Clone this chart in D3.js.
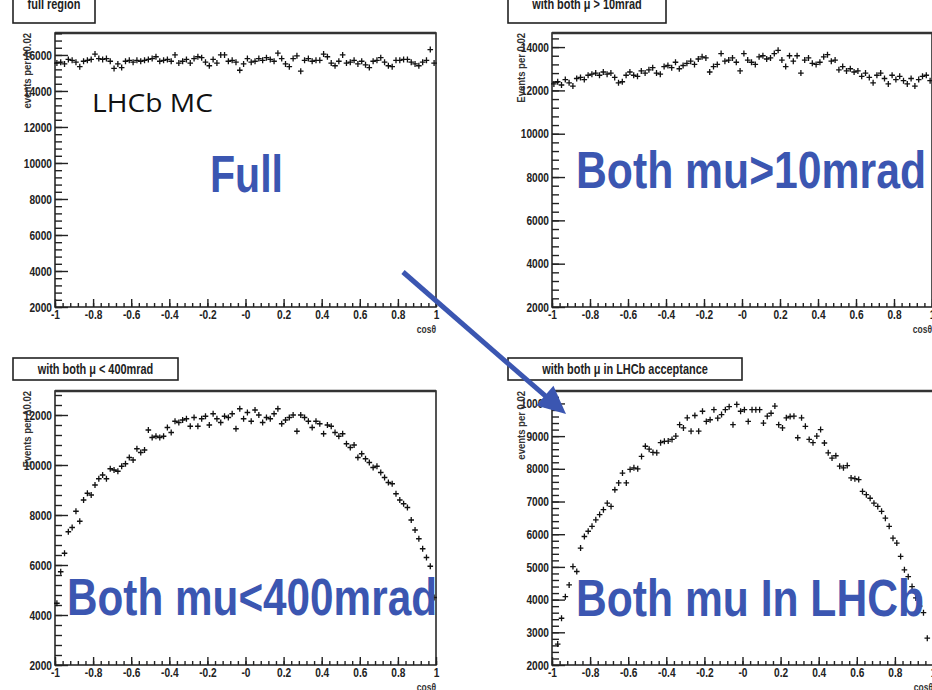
<!DOCTYPE html>
<html>
<head>
<meta charset="utf-8">
<script src="https://cdn.jsdelivr.net/npm/d3@7"></script>
<style>
  html, body { margin: 0; background: #fff; }
  svg { display: block; font-family: "Liberation Sans", Arial, sans-serif; }
</style>
</head>
<body>
<svg id="canvas" width="932" height="690"></svg>
<script>
// ---- data: events per 0.02 bin of cos(theta), 100 bins from -1 to 1 ----
const fullRegion = [
  15550,15600,15500,15750,15700,15600,15350,15650,15700,15750,
  16050,15800,15750,15800,15650,15250,15500,15300,15650,15700,
  15600,15700,15650,15700,15750,15800,15900,15650,15700,15750,
  15650,16000,15550,15650,15750,15550,15800,15900,15850,15600,
  15400,15750,15550,16000,16000,15650,15700,15600,15150,15500,
  15800,15600,15650,15800,15700,15850,15750,15650,16100,15800,
  15500,15350,15800,15950,15100,15700,15800,15650,15700,15700,
  16050,15900,15550,15400,15650,16000,15550,15600,15700,15500,
  15650,15450,15300,15650,15700,15850,15600,15400,15350,15700,
  15700,15750,15750,15600,15500,15400,15600,15700,16300,15550];

const above10mrad = [
  12300,12400,12250,12500,12350,12200,12550,12600,12500,12700,
  12750,12800,12700,12850,12750,12800,12600,12350,12400,12700,
  12850,12700,12650,12900,12800,12950,13050,12800,12750,13100,
  13150,13050,13300,13000,13150,13250,13350,13200,13450,13550,
  13500,12850,13100,13200,13700,13350,13400,13500,13300,12900,
  13700,13400,13300,13200,13550,13600,13450,13500,13700,13850,
  13400,13100,13600,13350,13600,12800,13400,13500,13250,13200,
  13300,13550,13650,13350,13400,12950,13100,12900,13000,12850,
  12900,12650,12800,12600,12350,12700,12800,12550,12300,12700,
  12500,12650,12450,12300,12550,12200,12500,12650,12700,12450];

const below400mrad = [
  4470,5730,6470,7330,7500,8150,7750,8600,8870,8800,
  9200,9450,9600,9450,9850,9800,9750,9950,10050,10300,
  10200,10650,10500,10600,11400,11100,11150,11100,11150,11500,
  11300,11750,11700,11800,11850,11550,11900,11550,11850,11950,
  11600,12050,11850,11700,11950,11900,12050,11450,12250,11850,
  12100,11750,12200,12000,11700,11900,11850,12050,12250,11650,
  11800,11900,12000,11350,12000,11900,11750,11500,11750,11650,
  11250,11600,11550,11300,11150,11250,10850,10700,10800,10300,
  10450,10250,10100,9900,9950,9700,9500,9300,9250,8850,
  8600,8450,8300,7800,7400,7050,6650,6300,5950,4700];

const inAcceptance = [
  null,2640,3430,4090,4450,5010,4860,5575,5930,6090,
  6240,6440,6600,6750,6950,6850,7360,7570,7870,7570,
  7980,8030,8000,8380,8690,8600,8500,8490,8800,8840,
  8850,8900,9000,9350,9250,9560,9150,9630,9150,9760,
  9450,9500,9810,9550,9660,9810,9900,9350,9970,9760,
  9810,9450,9810,9810,9810,9400,9610,9700,9920,9350,
  9250,9560,9600,9610,8950,9560,9300,8900,8800,9000,
  9200,8790,8490,8330,8400,8080,8030,8100,7720,7700,
  7670,7310,7210,7100,6950,6850,6700,6490,6240,5880,
  5730,5320,4910,4700,4400,4050,3800,3600,2820,null];

const xTickValues = [-1,-0.8,-0.6,-0.4,-0.2,0,0.2,0.4,0.6,0.8,1];
const xTickLabels = ["-1","-0.8","-0.6","-0.4","-0.2","-0","0.2","0.4","0.6","0.8","1"];
const yTicksFull  = [2000,4000,6000,8000,10000,12000,14000,16000];
const yTicks10    = [2000,4000,6000,8000,10000,12000,14000];
const yTicks400   = [2000,4000,6000,8000,10000,12000];
const yTicksAcc   = [2000,3000,4000,5000,6000,7000,8000,9000,10000];

const panelTitles = ["full region", "with both μ > 10mrad", "with both μ < 400mrad", "with both μ in LHCb acceptance"];
const yTitles     = ["events per Δ0.02", "Events per 0.02", "Events per Δ0.02", "events per 0.02"];
const bigLabels   = ["Full", "Both mu>10mrad", "Both mu<400mrad", "Both mu In LHCb"];

// bin centres -0.99 ... 0.99
const binCentres = d3.range(100).map(i => -0.99 + i * 0.02);

const BLUE = "#3b56b1";
const svg = d3.select("#canvas");

const panels = [
  { data: fullRegion,   ticks: yTicksFull, top: 17220, minor: 400, x0: 55,  x1: 436, y0: 33,  y1: 307,
    box: [13, -8, 82, 31],  tb: 9,   big: [210, 192, 73],  yt: 31 },
  { data: above10mrad,  ticks: yTicks10,   top: 14650, minor: 400, x0: 552, x1: 932, y0: 33,  y1: 307,
    box: [508, -8, 158, 31], tb: 9,  big: [576, 188, 350], yt: 525 },
  { data: below400mrad, ticks: yTicks400,  top: 12960, minor: 400, x0: 55,  x1: 436, y0: 391, y1: 665,
    box: [13, 358, 165, 22], tb: 374, big: [67, 615, 370],  yt: 31 },
  { data: inAcceptance, ticks: yTicksAcc,  top: 10380, minor: 200, x0: 552, x1: 933, y0: 391, y1: 665,
    box: [508, 358, 234, 22], tb: 374, big: [576, 616, 348], yt: 525 }
];

const narrow = []; // ROOT labels look condensed in the scan

panels.forEach((p, k) => {
  const x = d3.scaleLinear().domain([-1, 1]).range([p.x0, p.x1]);
  const y = d3.scaleLinear().domain([2000, p.top]).range([p.y1, p.y0]);
  const g = svg.append("g");

  // frame
  g.append("rect").attr("x", p.x0).attr("y", p.y0)
    .attr("width", p.x1 - p.x0).attr("height", p.y1 - p.y0)
    .attr("fill", "none").attr("stroke", "#2a2a2a").attr("stroke-width", 1.6);
  g.append("line").attr("x1", p.x0).attr("x2", p.x1).attr("y1", p.y0).attr("y2", p.y0)
    .attr("stroke", "#333").attr("stroke-width", 2.6);

  // y axis: inward ticks
  const yMinor = g.append("g").attr("transform", `translate(${p.x0},0)`)
    .call(d3.axisLeft(y).tickValues(d3.range(2000, p.top, p.minor)).tickSize(-7).tickSizeOuter(0).tickFormat(""));
  const yMajor = g.append("g").attr("transform", `translate(${p.x0},0)`)
    .call(d3.axisLeft(y).tickValues(p.ticks).tickSize(-13).tickSizeOuter(0).tickPadding(3)
      .tickFormat(d3.format("d")));
  // x axis
  const xMinor = g.append("g").attr("transform", `translate(0,${p.y1})`)
    .call(d3.axisBottom(x).tickValues(d3.range(-1, 1.001, 0.04)).tickSize(-4).tickSizeOuter(0).tickFormat(""));
  const xMajor = g.append("g").attr("transform", `translate(0,${p.y1})`)
    .call(d3.axisBottom(x).tickValues(xTickValues).tickSize(-8).tickSizeOuter(0).tickPadding(3)
      .tickFormat((d, i) => xTickLabels[i]));
  [yMinor, yMajor, xMinor, xMajor].forEach(a => {
    a.select(".domain").remove();
    a.selectAll("line").attr("stroke", "#222").attr("stroke-width", 1.4);
    a.selectAll("text").attr("font-size", 13).attr("font-weight", "bold").attr("fill", "#222")
      .each(function () { narrow.push([this, 0.78]); });
  });

  // axis titles
  const yt = g.append("text").attr("transform", `translate(${p.yt},${p.y0}) rotate(-90)`)
    .attr("text-anchor", "end").attr("font-size", 10).attr("font-weight", "bold").attr("fill", "#333")
    .text(yTitles[k]);
  narrow.push([yt.node(), 0.95]);
  const xt = g.append("text").attr("x", p.x1).attr("y", p.y1 + 26)
    .attr("text-anchor", "end").attr("font-size", 10).attr("font-weight", "bold").attr("fill", "#333")
    .text("cosθ");
  narrow.push([xt.node(), 0.85]);

  // markers
  const pts = p.data.map((v, i) => ({ c: binCentres[i], v }))
    .filter(d => d.v != null && d.v >= 2000 && d.v <= p.top);
  g.append("path")
    .attr("d", pts.map(d => {
      const cx = x(d.c), cy = y(d.v);
      return `M${cx - 2.8},${cy}H${cx + 2.8}M${cx},${cy - 3}V${cy + 3}`;
    }).join(""))
    .attr("fill", "none").attr("stroke", "#111").attr("stroke-width", 1.3);

  // title pave
  const [bx, by, bw, bh] = p.box;
  g.append("rect").attr("x", bx).attr("y", by).attr("width", bw).attr("height", bh)
    .attr("fill", "#fff").attr("stroke", "#222").attr("stroke-width", 1.6);
  const tt = g.append("text").attr("x", bx + bw / 2).attr("y", p.tb)
    .attr("text-anchor", "middle").attr("font-size", 14).attr("font-weight", "bold").attr("fill", "#222")
    .text(panelTitles[k]);
  narrow.push([tt.node(), 0.78]);

  // big slide label
  const [lx, ly, lw] = p.big;
  svg.append("text").attr("x", lx).attr("y", ly)
    .attr("font-size", 52).attr("font-weight", "bold").attr("fill", BLUE)
    .attr("textLength", lw).attr("lengthAdjust", "spacingAndGlyphs")
    .text(bigLabels[k]);
});

narrow.forEach(([node, f]) => {
  const w = node.getComputedTextLength();
  if (w > 0) {
    node.setAttribute("textLength", w * f);
    node.setAttribute("lengthAdjust", "spacingAndGlyphs");
  }
});

// "LHCb MC" tag
svg.append("text").attr("x", 92).attr("y", 112)
  .attr("font-family", "'Open Sans', 'Noto Sans', sans-serif").attr("font-size", 25).attr("fill", "#111")
  .attr("textLength", 121).attr("lengthAdjust", "spacingAndGlyphs")
  .text("LHCb MC");

// arrow from the full-region panel to the acceptance panel
const a0 = [403, 272], a1 = [566, 414];
const len = Math.hypot(a1[0] - a0[0], a1[1] - a0[1]);
const ux = (a1[0] - a0[0]) / len, uy = (a1[1] - a0[1]) / len;
const head = 28, half = 13;
const bxm = a1[0] - ux * head, bym = a1[1] - uy * head;
svg.append("line").attr("x1", a0[0]).attr("y1", a0[1]).attr("x2", bxm + ux * 4).attr("y2", bym + uy * 4)
  .attr("stroke", BLUE).attr("stroke-width", 5);
svg.append("path")
  .attr("d", `M${a1[0]},${a1[1]}L${bxm - uy * half},${bym + ux * half}L${bxm + uy * half},${bym - ux * half}Z`)
  .attr("fill", BLUE);
</script>
</body>
</html>
